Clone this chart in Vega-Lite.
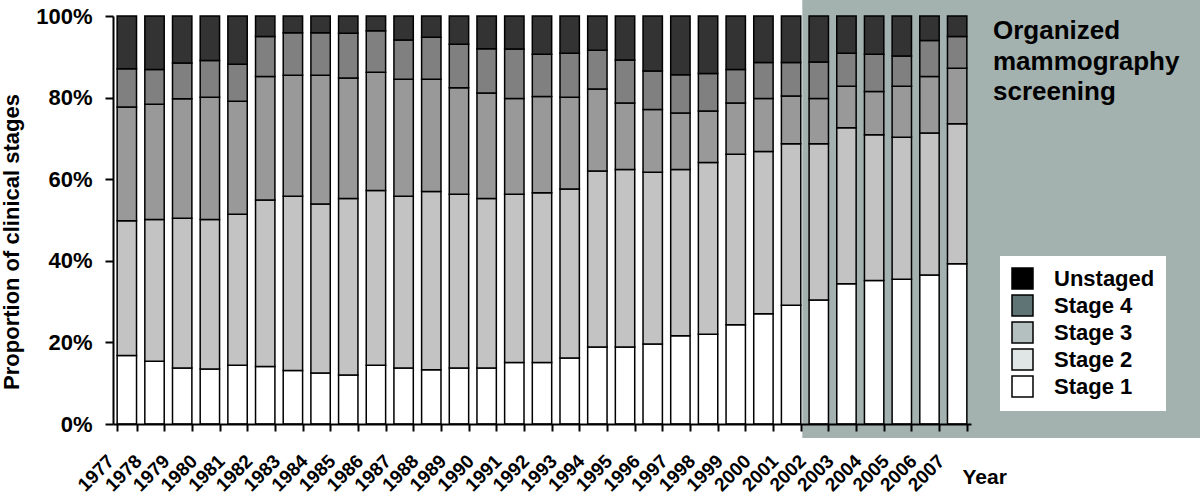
{
  "$schema": "https://vega.github.io/schema/vega-lite/v6.json",
  "autosize": {"type": "none"},
  "padding": {"left": 113, "top": 16, "right": 0, "bottom": 73},
  "width": 1087,
  "height": 408,
  "background": "white",
  "config": {"font": "Liberation Sans", "view": {"stroke": null}},
  "title": {
    "text": ["Organized", "mammography", "screening"],
    "orient": "top", "anchor": "start", "frame": "group", "align": "left", "baseline": "top",
    "dx": 880, "dy": 105, "offset": 0,
    "font": "Liberation Sans", "fontSize": 26, "fontWeight": "bold", "lineHeight": 30.5, "color": "black"
  },
  "datasets": {
    "stages": [
      {"year":1977,"stage":"Stage 1","pct":16.8},{"year":1977,"stage":"Stage 2","pct":33.0},{"year":1977,"stage":"Stage 3","pct":27.9},{"year":1977,"stage":"Stage 4","pct":9.4},{"year":1977,"stage":"Unstaged","pct":12.9},
      {"year":1978,"stage":"Stage 1","pct":15.4},{"year":1978,"stage":"Stage 2","pct":34.7},{"year":1978,"stage":"Stage 3","pct":28.3},{"year":1978,"stage":"Stage 4","pct":8.5},{"year":1978,"stage":"Unstaged","pct":13.1},
      {"year":1979,"stage":"Stage 1","pct":13.7},{"year":1979,"stage":"Stage 2","pct":36.7},{"year":1979,"stage":"Stage 3","pct":29.3},{"year":1979,"stage":"Stage 4","pct":8.8},{"year":1979,"stage":"Unstaged","pct":11.5},
      {"year":1980,"stage":"Stage 1","pct":13.5},{"year":1980,"stage":"Stage 2","pct":36.6},{"year":1980,"stage":"Stage 3","pct":30.0},{"year":1980,"stage":"Stage 4","pct":9.0},{"year":1980,"stage":"Unstaged","pct":10.9},
      {"year":1981,"stage":"Stage 1","pct":14.4},{"year":1981,"stage":"Stage 2","pct":37.0},{"year":1981,"stage":"Stage 3","pct":27.7},{"year":1981,"stage":"Stage 4","pct":9.1},{"year":1981,"stage":"Unstaged","pct":11.8},
      {"year":1982,"stage":"Stage 1","pct":14.1},{"year":1982,"stage":"Stage 2","pct":40.8},{"year":1982,"stage":"Stage 3","pct":30.3},{"year":1982,"stage":"Stage 4","pct":9.8},{"year":1982,"stage":"Unstaged","pct":5.0},
      {"year":1983,"stage":"Stage 1","pct":13.1},{"year":1983,"stage":"Stage 2","pct":42.7},{"year":1983,"stage":"Stage 3","pct":29.7},{"year":1983,"stage":"Stage 4","pct":10.4},{"year":1983,"stage":"Unstaged","pct":4.1},
      {"year":1984,"stage":"Stage 1","pct":12.5},{"year":1984,"stage":"Stage 2","pct":41.4},{"year":1984,"stage":"Stage 3","pct":31.6},{"year":1984,"stage":"Stage 4","pct":10.4},{"year":1984,"stage":"Unstaged","pct":4.1},
      {"year":1985,"stage":"Stage 1","pct":12.0},{"year":1985,"stage":"Stage 2","pct":43.3},{"year":1985,"stage":"Stage 3","pct":29.5},{"year":1985,"stage":"Stage 4","pct":11.0},{"year":1985,"stage":"Unstaged","pct":4.2},
      {"year":1986,"stage":"Stage 1","pct":14.4},{"year":1986,"stage":"Stage 2","pct":42.8},{"year":1986,"stage":"Stage 3","pct":29.0},{"year":1986,"stage":"Stage 4","pct":10.2},{"year":1986,"stage":"Unstaged","pct":3.6},
      {"year":1987,"stage":"Stage 1","pct":13.7},{"year":1987,"stage":"Stage 2","pct":42.1},{"year":1987,"stage":"Stage 3","pct":28.7},{"year":1987,"stage":"Stage 4","pct":9.6},{"year":1987,"stage":"Unstaged","pct":5.9},
      {"year":1988,"stage":"Stage 1","pct":13.3},{"year":1988,"stage":"Stage 2","pct":43.7},{"year":1988,"stage":"Stage 3","pct":27.5},{"year":1988,"stage":"Stage 4","pct":10.3},{"year":1988,"stage":"Unstaged","pct":5.2},
      {"year":1989,"stage":"Stage 1","pct":13.7},{"year":1989,"stage":"Stage 2","pct":42.6},{"year":1989,"stage":"Stage 3","pct":26.1},{"year":1989,"stage":"Stage 4","pct":10.7},{"year":1989,"stage":"Unstaged","pct":6.9},
      {"year":1990,"stage":"Stage 1","pct":13.7},{"year":1990,"stage":"Stage 2","pct":41.6},{"year":1990,"stage":"Stage 3","pct":25.8},{"year":1990,"stage":"Stage 4","pct":10.9},{"year":1990,"stage":"Unstaged","pct":8.0},
      {"year":1991,"stage":"Stage 1","pct":15.1},{"year":1991,"stage":"Stage 2","pct":41.2},{"year":1991,"stage":"Stage 3","pct":23.5},{"year":1991,"stage":"Stage 4","pct":12.1},{"year":1991,"stage":"Unstaged","pct":8.1},
      {"year":1992,"stage":"Stage 1","pct":15.1},{"year":1992,"stage":"Stage 2","pct":41.6},{"year":1992,"stage":"Stage 3","pct":23.6},{"year":1992,"stage":"Stage 4","pct":10.3},{"year":1992,"stage":"Unstaged","pct":9.4},
      {"year":1993,"stage":"Stage 1","pct":16.2},{"year":1993,"stage":"Stage 2","pct":41.4},{"year":1993,"stage":"Stage 3","pct":22.5},{"year":1993,"stage":"Stage 4","pct":10.8},{"year":1993,"stage":"Unstaged","pct":9.1},
      {"year":1994,"stage":"Stage 1","pct":18.9},{"year":1994,"stage":"Stage 2","pct":43.1},{"year":1994,"stage":"Stage 3","pct":20.1},{"year":1994,"stage":"Stage 4","pct":9.5},{"year":1994,"stage":"Unstaged","pct":8.4},
      {"year":1995,"stage":"Stage 1","pct":18.9},{"year":1995,"stage":"Stage 2","pct":43.5},{"year":1995,"stage":"Stage 3","pct":16.3},{"year":1995,"stage":"Stage 4","pct":10.5},{"year":1995,"stage":"Unstaged","pct":10.8},
      {"year":1996,"stage":"Stage 1","pct":19.6},{"year":1996,"stage":"Stage 2","pct":42.1},{"year":1996,"stage":"Stage 3","pct":15.4},{"year":1996,"stage":"Stage 4","pct":9.4},{"year":1996,"stage":"Unstaged","pct":13.5},
      {"year":1997,"stage":"Stage 1","pct":21.6},{"year":1997,"stage":"Stage 2","pct":40.8},{"year":1997,"stage":"Stage 3","pct":13.8},{"year":1997,"stage":"Stage 4","pct":9.4},{"year":1997,"stage":"Unstaged","pct":14.4},
      {"year":1998,"stage":"Stage 1","pct":22.0},{"year":1998,"stage":"Stage 2","pct":42.1},{"year":1998,"stage":"Stage 3","pct":12.6},{"year":1998,"stage":"Stage 4","pct":9.2},{"year":1998,"stage":"Unstaged","pct":14.1},
      {"year":1999,"stage":"Stage 1","pct":24.3},{"year":1999,"stage":"Stage 2","pct":41.8},{"year":1999,"stage":"Stage 3","pct":12.6},{"year":1999,"stage":"Stage 4","pct":8.2},{"year":1999,"stage":"Unstaged","pct":13.1},
      {"year":2000,"stage":"Stage 1","pct":27.0},{"year":2000,"stage":"Stage 2","pct":39.8},{"year":2000,"stage":"Stage 3","pct":13.0},{"year":2000,"stage":"Stage 4","pct":8.8},{"year":2000,"stage":"Unstaged","pct":11.4},
      {"year":2001,"stage":"Stage 1","pct":29.1},{"year":2001,"stage":"Stage 2","pct":39.6},{"year":2001,"stage":"Stage 3","pct":11.7},{"year":2001,"stage":"Stage 4","pct":8.2},{"year":2001,"stage":"Unstaged","pct":11.4},
      {"year":2002,"stage":"Stage 1","pct":30.4},{"year":2002,"stage":"Stage 2","pct":38.3},{"year":2002,"stage":"Stage 3","pct":11.1},{"year":2002,"stage":"Stage 4","pct":8.9},{"year":2002,"stage":"Unstaged","pct":11.3},
      {"year":2003,"stage":"Stage 1","pct":34.4},{"year":2003,"stage":"Stage 2","pct":38.2},{"year":2003,"stage":"Stage 3","pct":10.2},{"year":2003,"stage":"Stage 4","pct":8.1},{"year":2003,"stage":"Unstaged","pct":9.1},
      {"year":2004,"stage":"Stage 1","pct":35.2},{"year":2004,"stage":"Stage 2","pct":35.7},{"year":2004,"stage":"Stage 3","pct":10.6},{"year":2004,"stage":"Stage 4","pct":9.1},{"year":2004,"stage":"Unstaged","pct":9.4},
      {"year":2005,"stage":"Stage 1","pct":35.5},{"year":2005,"stage":"Stage 2","pct":34.8},{"year":2005,"stage":"Stage 3","pct":12.5},{"year":2005,"stage":"Stage 4","pct":7.4},{"year":2005,"stage":"Unstaged","pct":9.8},
      {"year":2006,"stage":"Stage 1","pct":36.5},{"year":2006,"stage":"Stage 2","pct":34.8},{"year":2006,"stage":"Stage 3","pct":13.9},{"year":2006,"stage":"Stage 4","pct":8.8},{"year":2006,"stage":"Unstaged","pct":6.0},
      {"year":2007,"stage":"Stage 1","pct":39.3},{"year":2007,"stage":"Stage 2","pct":34.3},{"year":2007,"stage":"Stage 3","pct":13.6},{"year":2007,"stage":"Stage 4","pct":7.8},{"year":2007,"stage":"Unstaged","pct":5.0}
    ],
    "screening": [{"program": "Organized mammography screening", "start": 2002, "top": 1.0392, "bottom": -0.0343}]
  },
  "layer": [
    {
      "data": {"name": "screening"},
      "mark": {"type": "rect", "color": "#a3b1af", "clip": false},
      "encoding": {
        "x": {"field": "start", "type": "ordinal", "bandPosition": -0.35},
        "x2": {"value": "width"},
        "y": {"field": "top", "type": "quantitative"},
        "y2": {"field": "bottom"}
      }
    },
    {
      "data": {"name": "stages"},
      "mark": {"type": "bar", "stroke": "black", "strokeWidth": 1.5},
      "encoding": {
        "x": {
          "field": "year", "type": "ordinal",
          "scale": {"range": [0, 858], "paddingInner": 0.3, "paddingOuter": 0.15},
          "axis": {
            "title": "Year", "titleX": 849, "titleY": 59, "titleAlign": "left", "titleBaseline": "alphabetic",
            "titleFontSize": 21, "titleFontWeight": "bold", "titleColor": "black",
            "labelAngle": -45, "labelAlign": "right", "labelBaseline": "alphabetic", "labelFontSize": 19, "labelFontWeight": "bold",
            "labelColor": "black", "labelOffset": -12, "labelPadding": 31,
            "tickBand": "extent", "tickSize": 7, "tickWidth": 2, "tickColor": "black",
            "domainColor": "black", "domainWidth": 2
          }
        },
        "y": {
          "field": "pct", "type": "quantitative", "stack": "normalize",
          "scale": {"domain": [0, 1], "nice": false},
          "axis": {
            "title": "Proportion of clinical stages", "titleX": -94.5, "titleY": 225.5, "titleAngle": -90,
            "titleAlign": "center", "titleBaseline": "alphabetic", "titleFontSize": 22, "titleFontWeight": "bold", "titleColor": "black",
            "values": [0, 0.2, 0.4, 0.6, 0.8, 1], "format": ".0%",
            "labelFontSize": 22, "labelFontWeight": "bold", "labelColor": "black", "labelPadding": 13,
            "tickSize": 8, "tickWidth": 2, "tickColor": "black", "domainColor": "black", "domainWidth": 2, "grid": false
          }
        },
        "color": {
          "field": "stage", "type": "nominal",
          "scale": {
            "domain": ["Unstaged", "Stage 4", "Stage 3", "Stage 2", "Stage 1"],
            "range": ["#333333", "#808080", "#999999", "#c3c3c3", "#ffffff"]
          },
          "legend": null
        },
        "order": {"field": "stage", "sort": "ascending"}
      }
    },
    {
      "data": {"name": "stages"},
      "mark": {"type": "square", "size": 0, "opacity": 1, "filled": true},
      "encoding": {
        "fill": {
          "field": "stage", "type": "nominal", "sort": "descending",
          "scale": {"range": ["#000000", "#5f7475", "#b4c0bf", "#e0e5e5", "#ffffff"]},
          "legend": {
            "title": null, "orient": "none", "legendX": 887, "legendY": 240,
            "fillColor": "white", "padding": 11, "symbolType": "square", "symbolSize": 441, "symbolOpacity": 1,
            "symbolStrokeColor": "black", "symbolStrokeWidth": 1.5, "labelFontSize": 22, "labelFontWeight": "bold",
            "labelColor": "black", "labelOffset": 20, "rowPadding": 0
          }
        }
      }
    }
  ]
}
